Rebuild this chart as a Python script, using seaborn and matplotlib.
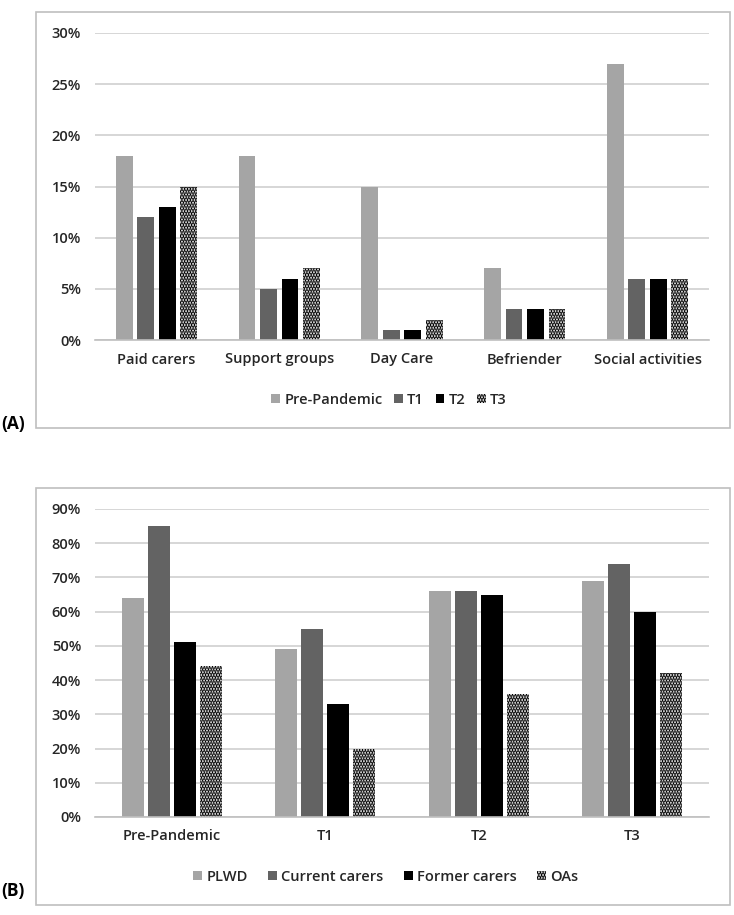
import matplotlib
matplotlib.use("Agg")
import matplotlib.pyplot as plt
from matplotlib.patches import Rectangle, Patch
import seaborn as sns
import pandas as pd

# ---- Data ----
services = ["Paid carers", "Support groups", "Day Care", "Befriender", "Social activities"]
periods_a = ["Pre-Pandemic", "T1", "T2", "T3"]
a_pre = [18, 18, 15, 7, 27]
a_t1 = [12, 5, 1, 3, 6]
a_t2 = [13, 6, 1, 3, 6]
a_t3 = [15, 7, 2, 3, 6]
a_ticks = [0, 5, 10, 15, 20, 25, 30]

periods_b = ["Pre-Pandemic", "T1", "T2", "T3"]
groups_b = ["PLWD", "Current carers", "Former carers", "OAs"]
b_plwd = [64, 49, 66, 69]
b_current = [85, 55, 66, 74]
b_former = [51, 33, 65, 60]
b_oas = [44, 20, 36, 42]
b_ticks = [0, 10, 20, 30, 40, 50, 60, 70, 80, 90]

colors = ["#A5A5A5", "#636363", "#000000", "#FFFFFF"]

sns.set_theme(style="white")
plt.rcParams["font.family"] = ["Open Sans", "DejaVu Sans"]
plt.rcParams["font.weight"] = "semibold"
plt.rcParams["hatch.linewidth"] = 1.8
plt.rcParams["hatch.color"] = "black"

FS = 10.5
TXT = "#262626"

W, H = 734, 915
fig = plt.figure(figsize=(W / 100, H / 100), dpi=100)


def fx(x):
    return x / W


def fy(y):
    return 1 - y / H


def make_long(cats, series_names, series_vals, catname, sername):
    rows = []
    for s, vals in zip(series_names, series_vals):
        for c, v in zip(cats, vals):
            rows.append({catname: c, sername: s, "value": v})
    return pd.DataFrame(rows)


def draw_panel(ax, df, cat, ser, order, hue_order, ticks, gap, width):
    sns.barplot(data=df, x=cat, y="value", hue=ser, order=order, hue_order=hue_order,
                palette=colors, width=width, gap=gap, ax=ax, legend=False,
                saturation=1, linewidth=0)
    for p in ax.containers[3].patches:
        p.set_facecolor("white")
        p.set_hatch("......")
        p.set_edgecolor("black")
        p.set_linewidth(0)
    ax.set_ylim(ticks[0], ticks[-1])
    ax.set_yticks(ticks)
    ax.set_yticklabels([f"{t}%" for t in ticks])
    ax.yaxis.grid(True, color="#D0D0D0", linewidth=1.2)
    ax.set_axisbelow(True)
    for s in ["top", "right", "left"]:
        ax.spines[s].set_visible(False)
    ax.spines["bottom"].set_color("#BFBFBF")
    ax.spines["bottom"].set_linewidth(1.2)
    ax.tick_params(axis="both", length=0, labelsize=FS, colors=TXT)
    ax.tick_params(axis="y", pad=10)
    ax.tick_params(axis="x", pad=9)
    ax.set_xlabel("")
    ax.set_ylabel("")
    ax.set_xlim(-0.5, len(order) - 0.5)


def legend_handles():
    hs = []
    for i, c in enumerate(colors):
        if i == 3:
            hs.append(Patch(facecolor="white", hatch="......", edgecolor="black", linewidth=0))
        else:
            hs.append(Patch(facecolor=c, edgecolor=c, linewidth=0))
    return hs


# Panel A
axA = fig.add_axes([fx(95), fy(340), fx(709) - fx(95), fy(33) - fy(340)])
dfA = make_long(services, periods_a, [a_pre, a_t1, a_t2, a_t3], "service", "period")
draw_panel(axA, dfA, "service", "period", services, periods_a, a_ticks, 0.22, 0.7)

# Panel B
axB = fig.add_axes([fx(95), fy(817), fx(709) - fx(95), fy(509) - fy(817)])
dfB = make_long(periods_b, groups_b, [b_plwd, b_current, b_former, b_oas], "period", "group")
draw_panel(axB, dfB, "period", "group", periods_b, groups_b, b_ticks, 0.16, 0.68)

# Frames
for (y0, y1) in [(12, 428), (488, 905)]:
    fig.patches.append(Rectangle((fx(36), fy(y1)), fx(730) - fx(36), fy(y0) - fy(y1),
                                 transform=fig.transFigure, fill=False,
                                 edgecolor="#BFBFBF", linewidth=1.2))

# Legends
fig.legend(legend_handles(), periods_a, loc="center", bbox_to_anchor=(fx(389), fy(400)),
           ncol=4, frameon=False, handlelength=0.6, handleheight=0.6, handletextpad=0.3,
           columnspacing=0.8, fontsize=FS, labelcolor=TXT)
fig.legend(legend_handles(), groups_b, loc="center", bbox_to_anchor=(fx(386), fy(877)),
           ncol=4, frameon=False, handlelength=0.6, handleheight=0.6, handletextpad=0.3,
           columnspacing=1.4, fontsize=FS, labelcolor=TXT)

# Panel labels
fig.text(fx(1), fy(424), "(A)", fontsize=12.5, fontweight="bold", color="black", va="center", ha="left")
fig.text(fx(1), fy(891), "(B)", fontsize=12.5, fontweight="bold", color="black", va="center", ha="left")

fig.savefig("out.png", dpi=100, facecolor="white")
